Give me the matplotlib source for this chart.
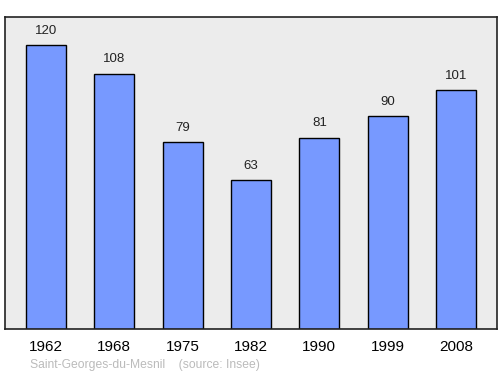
import matplotlib
matplotlib.use('Agg')
import matplotlib.pyplot as plt

plt.rcParams['font.family'] = ['Liberation Sans', 'DejaVu Sans']

years = ['1962', '1968', '1975', '1982', '1990', '1999', '2008']
population = [120, 108, 79, 63, 81, 90, 101]

fig = plt.figure(figsize=(5, 3.74), dpi=100)
ax = fig.add_axes([0.01, 0.1203, 0.984, 0.8342])
ax.set_facecolor('#ececec')

x = range(len(years))
ax.bar(x, population, width=0.585, color='#7799ff', edgecolor='black', linewidth=1)
for xi, v in zip(x, population):
    ax.text(xi, v + 3.5, str(v), ha='center', va='bottom', fontsize=9.5, color='#222222')

ax.set_xlim(-0.6, 6.6)
ax.set_ylim(0, 132)
ax.set_xticks(list(x))
ax.set_xticklabels(years, fontsize=11)
ax.tick_params(axis='x', length=0, pad=8)
ax.set_yticks([])
for s in ax.spines.values():
    s.set_linewidth(1.2)
    s.set_color('#222222')

fig.text(0.06, 0.015, 'Saint-Georges-du-Mesnil    (source: Insee)', fontsize=8.7, color='#bbbbbb')

fig.savefig('out.png', dpi=100)
